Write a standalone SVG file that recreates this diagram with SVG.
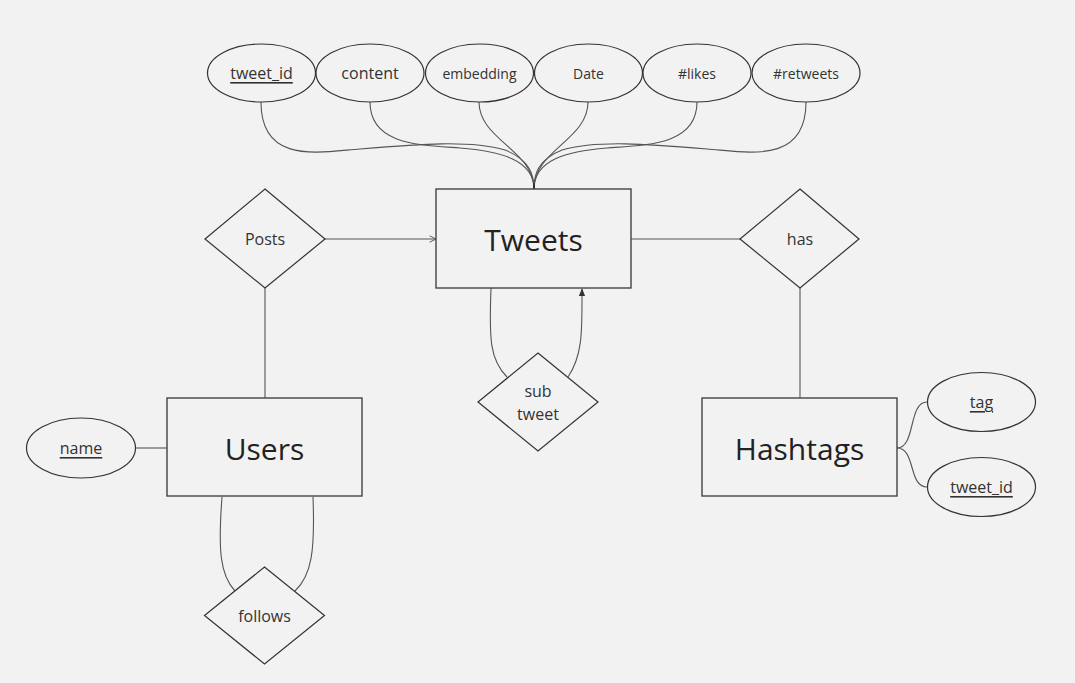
<svg xmlns="http://www.w3.org/2000/svg" width="1075" height="683" viewBox="0 0 1075 683">
<defs>
<style>
.bg{fill:#f2f2f2}
.shape{fill:#f2f2f2;stroke:#333;stroke-width:1.2}
.ent{fill:#f2f2f2;stroke:#444;stroke-width:1.4}
.line{fill:none;stroke:#555;stroke-width:1.1}
text{font-family:"Open Sans","Noto Sans",sans-serif;fill:#333;text-anchor:middle;dominant-baseline:central}
.big{font-size:30px;fill:#222}
.mid{font-size:16px}
.sm{font-size:14px}
.key{text-decoration:underline}
</style>
<marker id="open" viewBox="0 0 10 10" refX="9" refY="5" markerWidth="8" markerHeight="8" orient="auto" markerUnits="userSpaceOnUse">
<path d="M1,1 L9,5 L1,9" fill="none" stroke="#555" stroke-width="1.2"/>
</marker>
<marker id="filled" viewBox="0 0 10 10" refX="9" refY="5" markerWidth="8" markerHeight="8" orient="auto" markerUnits="userSpaceOnUse">
<path d="M0,1 L10,5 L0,9 Z" fill="#333"/>
</marker>
</defs>
<rect class="bg" x="0" y="0" width="1075" height="683"/>

<g id="connectors">
<path class="line" d="M261,102 C261,165 320,152 360,149 C420,144 470,140 505,150 C530,160 534,175 534,189"/>
<path class="line" d="M370,102 C370,145 420,145 460,148 C500,151 534,160 534,189"/>
<path class="line" d="M479,102 C479,140 534,150 534,189"/>
<path class="line" d="M588,102 C588,140 534,150 534,189"/>
<path class="line" d="M697,102 C697,145 647,145 607,148 C567,151 534,160 534,189"/>
<path class="line" d="M806,102 C806,165 747,152 707,149 C647,144 597,140 562,150 C537,160 534,175 534,189"/>
<line x1="534" y1="183" x2="534" y2="189" stroke="#333" stroke-width="2"/>
<line class="line" x1="325" y1="239" x2="436" y2="239" marker-end="url(#open)"/>
<line class="line" x1="631" y1="239" x2="740" y2="239"/>
<line class="line" x1="265" y1="288" x2="265" y2="398"/>
<line class="line" x1="800" y1="288" x2="800" y2="398"/>
<line class="line" x1="136" y1="448" x2="167" y2="448"/>
<path class="line" d="M897,448 C916,448 908,402 927,402"/>
<path class="line" d="M897,448 C916,448 908,487 927,487"/>
<path class="line" d="M491,288 C489,340 490,360 507,377"/>
<path class="line" d="M568,377 C583,355 582,330 582,289" marker-end="url(#filled)"/>
<path class="line" d="M222,497 C218,550 220,575 235,591"/>
<path class="line" d="M313,497 C315,550 312,575 295,591"/>
</g>

<g id="attr-tweet_id"><ellipse class="shape" cx="261.5" cy="73" rx="54" ry="29"/><text class="mid key" x="261.5" y="73">tweet_id</text></g>
<g id="attr-content"><ellipse class="shape" cx="370" cy="73" rx="54" ry="29"/><text class="mid" x="370" y="73">content</text></g>
<g id="attr-embedding"><ellipse class="shape" cx="479.5" cy="73" rx="54" ry="29"/><text class="sm" x="479.5" y="73">embedding</text></g>
<g id="attr-date"><ellipse class="shape" cx="588.5" cy="73" rx="54" ry="29"/><text class="sm" x="588.5" y="73">Date</text></g>
<g id="attr-likes"><ellipse class="shape" cx="697" cy="73" rx="54" ry="29"/><text class="sm" x="697" y="73">#likes</text></g>
<g id="attr-retweets"><ellipse class="shape" cx="806" cy="73" rx="54" ry="29"/><text class="sm" x="806" y="73">#retweets</text></g>

<g id="tweets"><rect class="ent" x="436" y="189" width="195" height="99"/><text class="big" x="533.5" y="239">Tweets</text></g>
<g id="posts"><polygon class="shape" points="265,189 325,239 265,288 205,239"/><text class="mid" x="265" y="239">Posts</text></g>
<g id="has"><polygon class="shape" points="800,189 859,239 800,288 740,239"/><text class="mid" x="800" y="239">has</text></g>
<g id="users"><rect class="ent" x="167" y="398" width="195" height="98"/><text class="big" x="264.5" y="448">Users</text></g>
<g id="hashtags"><rect class="ent" x="702" y="398" width="195" height="98"/><text class="big" x="799.5" y="448">Hashtags</text></g>
<g id="attr-name"><ellipse class="shape" cx="81" cy="448" rx="54.5" ry="30"/><text class="mid key" x="81" y="448">name</text></g>
<g id="attr-tag"><ellipse class="shape" cx="981.5" cy="402" rx="54" ry="29.5"/><text class="mid key" x="981.5" y="402">tag</text></g>
<g id="attr-h-tweet_id"><ellipse class="shape" cx="981.5" cy="487" rx="54" ry="29.5"/><text class="mid key" x="981.5" y="487">tweet_id</text></g>
<g id="subtweet"><polygon class="shape" points="538,353 598,402 538,451 478,402"/><text class="mid" x="538" y="391">sub</text><text class="mid" x="538" y="414">tweet</text></g>
<g id="follows"><polygon class="shape" points="264.5,567 324.5,615.5 264.5,664 204.5,615.5"/><text class="mid" x="264.5" y="615.5">follows</text></g>
</svg>
